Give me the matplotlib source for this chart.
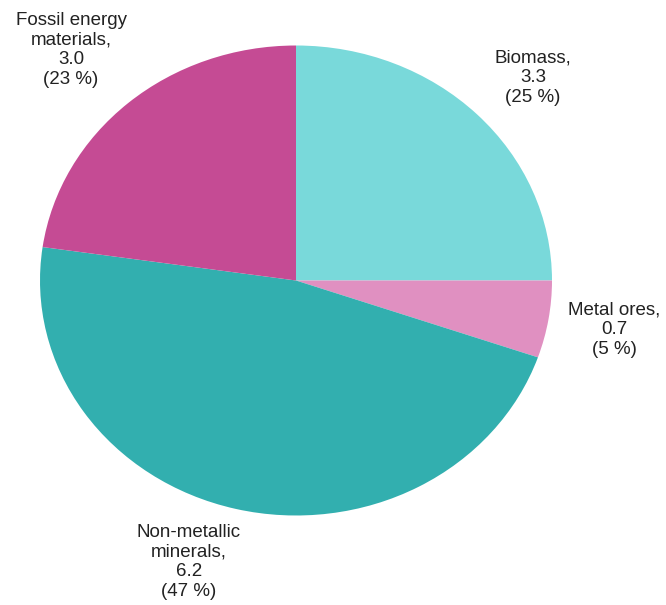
import matplotlib
matplotlib.use("Agg")
import matplotlib.pyplot as plt

categories = ["Biomass", "Metal ores", "Non-metallic\nminerals", "Fossil energy\nmaterials"]
values = [3.3, 0.7, 6.2, 3.0]
percents = [25, 5, 47, 23]
colors = ["#79D9DA", "#E090C1", "#32AFAF", "#C54B94"]

W, H = 666, 605
fig = plt.figure(figsize=(W / 100, H / 100), dpi=100)
plt.rcParams['font.family'] = ['Liberation Sans', 'DejaVu Sans']

# pie bounding box in pixels (left, top, right, bottom)
l, t, r, b = 40, 45.5, 552, 515.5
ax = fig.add_axes([l / W, 1 - b / H, (r - l) / W, (b - t) / H])
ax.pie(values, colors=colors, startangle=90, counterclock=False,
       wedgeprops=dict(linewidth=0))
ax.set_aspect('auto')
ax.set_xlim(-1, 1)
ax.set_ylim(-1, 1)
ax.axis('off')

label_pos = [(533, 78), (614, 330), (189, 562), (71, 50)]
for cat, v, p, (px, py) in zip(categories, values, percents, label_pos):
    fig.text(px / W, 1 - py / H, f"{cat},\n{v:.1f}\n({p} %)", ha='center', va='center',
             fontsize=13.5, color='#222222', linespacing=1.2)

fig.savefig("out.png", dpi=100)
